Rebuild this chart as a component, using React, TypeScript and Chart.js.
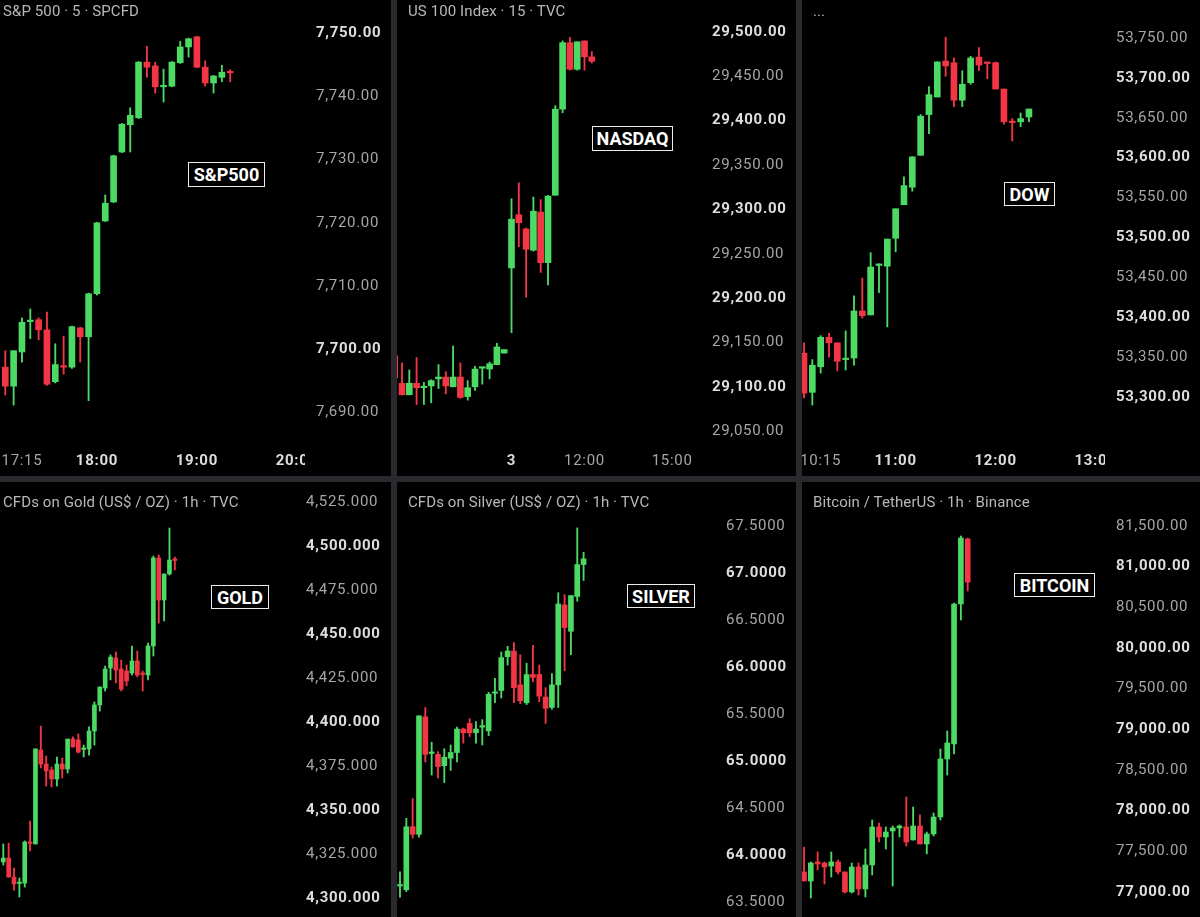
import React, { useEffect, useRef } from 'react';
import { Chart, registerables } from 'chart.js';

Chart.register(...registerables);

type OHLC = [number, number, number, number]; // open, high, low, close

// ---------- DATA ----------
const SPX_OHLC: OHLC[] = [
  [7697.2, 7699.8, 7692.8, 7694.2], [7694.2, 7699.8, 7691.2, 7699.8], [7699.6, 7705.0, 7698.0, 7704.3],
  [7704.4, 7706.4, 7701.7, 7704.6], [7704.7, 7705.0, 7701.5, 7703.1], [7703.1, 7705.9, 7694.3, 7694.5],
  [7694.9, 7700.9, 7694.7, 7697.6], [7697.4, 7702.1, 7696.1, 7697.2], [7697.2, 7703.7, 7697.0, 7703.6],
  [7703.4, 7703.5, 7698.0, 7702.0], [7702.0, 7708.9, 7691.9, 7708.8], [7708.8, 7720.1, 7708.6, 7720.0],
  [7720.3, 7724.4, 7720.2, 7723.1], [7723.3, 7730.7, 7723.2, 7730.6], [7731.2, 7735.7, 7731.1, 7735.6],
  [7735.5, 7738.2, 7731.2, 7737.0], [7736.6, 7745.5, 7736.5, 7745.4], [7745.4, 7747.9, 7743.0, 7744.6],
  [7744.8, 7745.4, 7740.5, 7741.5], [7741.5, 7744.3, 7739.1, 7741.7], [7741.6, 7745.5, 7741.5, 7745.4],
  [7745.3, 7748.7, 7745.2, 7747.8], [7747.8, 7749.2, 7746.2, 7749.1], [7749.4, 7749.5, 7744.5, 7744.6],
  [7744.6, 7745.6, 7741.6, 7742.1], [7742.1, 7743.3, 7740.5, 7743.2], [7743.0, 7744.9, 7742.3, 7743.8],
  [7743.9, 7744.2, 7742.3, 7743.7],
];
const NDX_OHLC: OHLC[] = [
  [29135, 29139, 29099, 29110], [29104, 29127, 29091, 29091], [29091, 29119, 29091, 29104],
  [29104, 29133, 29080, 29099], [29099, 29105, 29080, 29100], [29101, 29108, 29082, 29107],
  [29109, 29125, 29098, 29111], [29111, 29117, 29092, 29101], [29100, 29146, 29100, 29111],
  [29111, 29127, 29087, 29088], [29089, 29107, 29085, 29099], [29100, 29123, 29096, 29120],
  [29121, 29122, 29103, 29122], [29120, 29128, 29109, 29126], [29125, 29149, 29125, 29145],
  [29138, 29142, 29138, 29142], [29234, 29312, 29161, 29289], [29294, 29330, 29258, 29285],
  [29278, 29279, 29201, 29255], [29254, 29314, 29253, 29298], [29297, 29311, 29229, 29240],
  [29240, 29316, 29215, 29315], [29316, 29417, 29316, 29413], [29413, 29490, 29409, 29488],
  [29488, 29494, 29457, 29458], [29458, 29489, 29457, 29489], [29490, 29490, 29457, 29472],
  [29472, 29478, 29465, 29467],
];
const DOW_OHLC: OHLC[] = [
  [53355, 53368, 53299, 53305], [53306, 53347, 53290, 53340], [53338, 53377, 53330, 53375],
  [53375, 53380, 53350, 53368], [53368, 53368, 53333, 53345], [53347, 53383, 53334, 53348],
  [53349, 53427, 53340, 53408], [53408, 53449, 53399, 53402], [53403, 53481, 53403, 53463],
  [53465, 53467, 53431, 53466], [53464, 53498, 53388, 53498], [53499, 53536, 53482, 53536],
  [53541, 53576, 53541, 53565], [53563, 53601, 53558, 53601], [53603, 53654, 53603, 53652],
  [53654, 53689, 53630, 53679], [53676, 53720, 53676, 53720], [53721, 53751, 53702, 53715],
  [53719, 53725, 53664, 53672], [53672, 53709, 53664, 53692], [53694, 53727, 53692, 53725],
  [53726, 53738, 53709, 53716], [53719, 53720, 53699, 53718], [53719, 53720, 53686, 53686],
  [53686, 53686, 53642, 53645], [53645, 53649, 53621, 53644], [53645, 53656, 53639, 53649],
  [53651, 53661, 53645, 53661],
];
const GOLD_OHLC: OHLC[] = [
  [4320.5, 4330.7, 4318.7, 4322.7], [4322.7, 4331.2, 4311.9, 4311.9], [4311.9, 4317.0, 4304.5, 4307.9],
  [4308.2, 4311.4, 4300.6, 4308.8], [4308.5, 4332.4, 4306.2, 4331.8], [4331.5, 4343.7, 4326.7, 4331.0],
  [4330.7, 4384.7, 4330.7, 4384.7], [4384.1, 4397.7, 4373.9, 4376.1], [4376.1, 4380.7, 4363.6, 4372.2],
  [4372.7, 4374.4, 4363.1, 4367.6], [4367.6, 4380.1, 4363.6, 4376.1], [4376.1, 4379.5, 4368.2, 4373.3],
  [4373.3, 4390.3, 4371.0, 4390.3], [4390.3, 4391.5, 4385.8, 4385.8], [4389.8, 4393.2, 4382.4, 4382.9],
  [4384.4, 4386.9, 4380.1, 4384.9], [4384.7, 4397.2, 4381.2, 4394.9], [4394.9, 4411.4, 4386.9, 4409.7],
  [4409.7, 4419.9, 4406.2, 4419.9], [4419.3, 4431.8, 4417.6, 4430.1], [4430.7, 4438.1, 4423.9, 4436.9],
  [4436.4, 4439.8, 4422.2, 4429.5], [4430.1, 4435.2, 4417.6, 4418.7], [4429.0, 4432.4, 4420.5, 4423.3],
  [4427.8, 4443.2, 4426.7, 4434.7], [4434.7, 4440.3, 4425.6, 4426.7], [4427.6, 4429.0, 4417.6, 4427.0],
  [4426.7, 4444.9, 4423.9, 4443.2], [4443.2, 4494.3, 4437.5, 4493.2], [4493.2, 4494.9, 4456.2, 4469.3],
  [4469.3, 4484.1, 4457.4, 4484.1], [4484.1, 4510.2, 4483.5, 4492.0], [4492.3, 4493.7, 4486.4, 4491.8],
];
const SILVER_OHLC: OHLC[] = [
  [63.67, 63.82, 63.55, 63.68], [63.63, 64.39, 63.61, 64.30], [64.30, 64.60, 64.18, 64.22],
  [64.22, 65.48, 64.19, 65.48], [65.47, 65.57, 64.99, 65.07], [65.08, 65.20, 64.85, 65.09],
  [65.07, 65.10, 64.82, 64.94], [64.95, 65.13, 64.77, 65.04], [65.03, 65.17, 64.90, 65.09],
  [65.09, 65.36, 64.99, 65.34], [65.34, 65.35, 65.19, 65.30], [65.40, 65.45, 65.26, 65.30],
  [65.30, 65.42, 65.19, 65.34], [65.36, 65.44, 65.17, 65.37], [65.32, 65.73, 65.27, 65.71],
  [65.72, 65.88, 65.62, 65.73], [65.75, 66.16, 65.67, 66.10], [66.11, 66.22, 66.02, 66.17],
  [66.17, 66.26, 65.62, 65.78], [65.81, 66.13, 65.61, 65.64], [65.62, 66.04, 65.60, 65.92],
  [65.92, 66.23, 65.84, 65.89], [65.92, 66.02, 65.63, 65.69], [65.68, 65.78, 65.40, 65.56],
  [65.57, 65.93, 65.55, 65.81], [65.81, 66.79, 65.57, 66.67], [66.66, 66.77, 65.96, 66.42],
  [66.38, 66.76, 66.13, 66.76], [66.75, 67.48, 66.70, 67.09], [67.09, 67.22, 66.92, 67.15],
];
const BTC_OHLC: OHLC[] = [
  [77246, 77553, 77135, 77135], [77135, 77369, 76926, 77356], [77369, 77492, 77270, 77344],
  [77356, 77369, 77098, 77307], [77319, 77492, 77184, 77369], [77369, 77393, 77221, 77246],
  [77246, 77246, 76987, 77000], [77000, 77356, 76987, 77307], [77307, 77356, 76963, 77037],
  [77037, 77528, 76938, 77332], [77332, 77885, 77209, 77799], [77799, 77848, 77615, 77676],
  [77676, 77799, 77528, 77737], [77750, 77811, 77073, 77787], [77787, 77824, 77676, 77811],
  [77799, 78168, 77565, 77615], [77639, 78045, 77639, 77811], [77811, 77947, 77590, 77590],
  [77590, 77737, 77468, 77713], [77713, 77971, 77688, 77922], [77922, 78758, 77885, 78635],
  [78635, 78979, 78438, 78832], [78820, 80553, 78697, 80541], [80541, 81377, 80344, 81352],
  [81340, 81352, 80701, 80811],
];

// price-axis tick values
const SPX_TICKS = [7690, 7700, 7710, 7720, 7730, 7740, 7750];
const NDX_TICKS = [29050, 29100, 29150, 29200, 29250, 29300, 29350, 29400, 29450, 29500];
const DOW_TICKS = [53300, 53350, 53400, 53450, 53500, 53550, 53600, 53650, 53700, 53750];
const GOLD_TICKS = [4300, 4325, 4350, 4375, 4400, 4425, 4450, 4475, 4500, 4525];
const SILVER_TICKS = [63.5, 64, 64.5, 65, 65.5, 66, 66.5, 67, 67.5];
const BTC_TICKS = [77000, 77500, 78000, 78500, 79000, 79500, 80000, 80500, 81000, 81500];

// time-axis ticks (candle index) and labels
const SPX_TIME_IDX = [2, 11, 23, 35];
const SPX_TIME_LABELS = ['17:15', '18:00', '19:00', '20:00'];
const SPX_TIME_BOLD = [false, true, true, true];
const NDX_TIME_IDX = [16, 26, 38];
const NDX_TIME_LABELS = ['3', '12:00', '15:00'];
const NDX_TIME_BOLD = [true, false, false];
const DOW_TIME_IDX = [2, 11, 23, 35];
const DOW_TIME_LABELS = ['10:15', '11:00', '12:00', '13:00'];
const DOW_TIME_BOLD = [false, true, true, true];

const TITLES = ['S&P 500 · 5 · SPCFD', 'US 100 Index · 15 · TVC', '...', 'CFDs on Gold (US$ / OZ) · 1h · TVC', 'CFDs on Silver (US$ / OZ) · 1h · TVC', 'Bitcoin / TetherUS · 1h · Binance'];
const TAGS = ['S&P500', 'NASDAQ', 'DOW', 'GOLD', 'SILVER', 'BITCOIN'];

// ---------- STYLE ----------
const UP = '#4cd964';
const DOWN = '#f23645';
const FONT = 'Roboto, "Noto Sans", sans-serif';

interface Panel {
  data: OHLC[];
  yTicks: number[]; yMajor: number; yDec: number; yMin: number; yMax: number;
  xMin: number; xMax: number;
  xTicks: number[]; xLabels: string[]; xBold: boolean[];
  rect: [number, number, number, number];
  plot: [number, number, number]; // top, bottom, right (local)
  bodyW: number;
  titlePos: [number, number];
  tagBox: [number, number, number, number];
}

const PANELS: Panel[] = [
  { data: SPX_OHLC, yTicks: SPX_TICKS, yMajor: 50, yDec: 2, yMin: 7684.9, yMax: 7751.74, xMin: -0.636, xMax: 35.98,
    xTicks: SPX_TIME_IDX, xLabels: SPX_TIME_LABELS, xBold: SPX_TIME_BOLD,
    rect: [0, 0, 391, 476], plot: [22, 445, 305], bodyW: 6, titlePos: [3, 2], tagBox: [188, 162, 77, 25] },
  { data: NDX_OHLC, yTicks: NDX_TICKS, yMajor: 100, yDec: 2, yMin: 29034.4, yMax: 29511.3, xMin: 0.315, xMax: 41.96,
    xTicks: NDX_TIME_IDX, xLabels: NDX_TIME_LABELS, xBold: NDX_TIME_BOLD,
    rect: [397, 0, 399, 476], plot: [22, 445, 304], bodyW: 6, titlePos: [408, 2], tagBox: [592, 126, 81, 25] },
  { data: DOW_OHLC, yTicks: DOW_TICKS, yMajor: 100, yDec: 2, yMin: 53240.0, yMax: 53770.0, xMin: -0.24, xMax: 36.13,
    xTicks: DOW_TIME_IDX, xLabels: DOW_TIME_LABELS, xBold: DOW_TIME_BOLD,
    rect: [802, 0, 398, 476], plot: [22, 445, 303], bodyW: 6, titlePos: [813, 2], tagBox: [1004, 182, 51, 24] },
  { data: GOLD_OHLC, yTicks: GOLD_TICKS, yMajor: 50, yDec: 3, yMin: 4289.2, yMax: 4530.68, xMin: -0.616, xMax: 54.42,
    xTicks: [], xLabels: [], xBold: [],
    rect: [0, 482, 391, 435], plot: [10, 435, 295], bodyW: 4, titlePos: [3, 493], tagBox: [211, 585, 58, 24] },
  { data: SILVER_OHLC, yTicks: SILVER_TICKS, yMajor: 1, yDec: 4, yMin: 63.34, yMax: 67.862, xMin: -0.474, xMax: 49.76,
    xTicks: [], xLabels: [], xBold: [],
    rect: [397, 482, 399, 435], plot: [10, 435, 318], bodyW: 5, titlePos: [408, 493], tagBox: [627, 584, 68, 24] },
  { data: BTC_OHLC, yTicks: BTC_TICKS, yMajor: 1000, yDec: 2, yMin: 76692, yMax: 81918, xMin: -0.293, xMax: 44.13,
    xTicks: [], xLabels: [], xBold: [],
    rect: [802, 482, 398, 435], plot: [10, 435, 303], bodyW: 5, titlePos: [813, 493], tagBox: [1014, 573, 81, 24] },
];

const fmt = (v: number, d: number) =>
  v.toLocaleString('en-US', { minimumFractionDigits: d, maximumFractionDigits: d });

const spacingPlugin = {
  id: 'spacing',
  beforeDraw(chart: any) { chart.ctx.letterSpacing = '0.7px'; },
};
const maskPlugin = {
  id: 'mask',
  afterDraw(chart: any) {
    const { ctx, chartArea, width, height } = chart;
    ctx.save();
    ctx.fillStyle = '#000';
    ctx.fillRect(chartArea.right, chartArea.bottom, width - chartArea.right, height - chartArea.bottom);
    ctx.restore();
  },
};

function CandlePanel({ p }: { p: Panel }) {
  const ref = useRef<HTMLCanvasElement>(null);
  const [, , w, h] = p.rect;
  useEffect(() => {
    const [pt, pb, pr] = p.plot;
    const hasX = p.xTicks.length > 0;
    const colors = p.data.map((d) => (d[3] >= d[0] ? UP : DOWN));
    const chart = new Chart(ref.current as HTMLCanvasElement, {
      type: 'bar',
      data: {
        datasets: [
          {
            label: 'body',
            data: p.data.map((d, i) => ({ x: i, y: [d[0], d[3]] })) as any,
            backgroundColor: colors,
            barThickness: p.bodyW,
            minBarLength: 1.5,
            grouped: false,
            borderWidth: 0,
          },
          {
            label: 'wick',
            data: p.data.map((d, i) => ({ x: i, y: [d[2], d[1]] })) as any,
            backgroundColor: colors,
            barThickness: 1.2,
            grouped: false,
            borderWidth: 0,
          },
        ],
      },
      options: {
        animation: false,
        responsive: false,
        devicePixelRatio: 1,
        events: [],
        layout: { padding: { top: pt, bottom: hasX ? 0 : h - pb, left: 0, right: 0 } },
        plugins: { legend: { display: false }, tooltip: { enabled: false } },
        scales: {
          x: {
            type: 'linear',
            min: p.xMin,
            max: p.xMax,
            bounds: 'data',
            offset: false,
            display: hasX,
            grid: { display: false, drawTicks: false },
            border: { display: false },
            afterBuildTicks: (s: any) => { s.ticks = p.xTicks.map((v) => ({ value: v })); },
            afterFit: (s: any) => { s.height = hasX ? h - pb : 0; s.paddingLeft = 0; s.paddingRight = 0; },
            ticks: {
              autoSkip: false,
              maxRotation: 0,
              minRotation: 0,
              padding: 7,
              callback: (v: any) => p.xLabels[p.xTicks.indexOf(Number(v))] ?? '',
              font: (c: any) => ({ family: FONT, size: 15, weight: p.xBold[c.index] ? 'bold' : 'normal' }),
              color: (c: any) => (p.xBold[c.index] ? '#dedede' : '#a6a6a6'),
            },
          } as any,
          y: {
            type: 'linear',
            position: 'right',
            min: p.yMin,
            max: p.yMax,
            bounds: 'data',
            grid: { display: false, drawTicks: false },
            border: { display: false },
            afterBuildTicks: (s: any) => { s.ticks = p.yTicks.map((v) => ({ value: v })); },
            afterFit: (s: any) => { s.width = w - pr; s.paddingTop = 0; s.paddingBottom = 0; },
            ticks: {
              padding: 11,
              callback: (v: any) => fmt(Number(v), p.yDec),
              font: (c: any) => {
                const v = c.tick ? c.tick.value : 0;
                const major = Math.abs(v / p.yMajor - Math.round(v / p.yMajor)) < 1e-6;
                return { family: FONT, size: 15, weight: major ? 'bold' : 'normal' };
              },
              color: (c: any) => {
                const v = c.tick ? c.tick.value : 0;
                const major = Math.abs(v / p.yMajor - Math.round(v / p.yMajor)) < 1e-6;
                return major ? '#dedede' : '#a6a6a6';
              },
            },
          } as any,
        },
      },
      plugins: [spacingPlugin, maskPlugin],
    });
    return () => chart.destroy();
  }, [p]);
  return <canvas ref={ref} width={w} height={h} style={{ position: 'absolute', left: 0, top: 0, width: w, height: h }} />;
}

export default function App() {
  return (
    <div style={{ position: 'fixed', left: 0, top: 0, width: 1200, height: 917, background: '#2a2a2e', overflow: 'hidden', fontFamily: FONT }}>
      {PANELS.map((p, i) => (
        <div key={'p' + i} style={{ position: 'absolute', left: p.rect[0], top: p.rect[1], width: p.rect[2], height: p.rect[3], background: '#000', overflow: 'hidden' }}>
          <CandlePanel p={p} />
        </div>
      ))}
      {PANELS.map((p, i) => (
        <div key={'t' + i} style={{ position: 'absolute', left: p.titlePos[0], top: p.titlePos[1], fontSize: 15, lineHeight: '18px', color: '#b8b8b8', letterSpacing: '0.1px', whiteSpace: 'nowrap' }}>
          {TITLES[i]}
        </div>
      ))}
      {PANELS.map((p, i) => (
        <div key={'g' + i} style={{ position: 'absolute', left: p.tagBox[0], top: p.tagBox[1], width: p.tagBox[2], height: p.tagBox[3], boxSizing: 'border-box', border: '1.5px solid #ececec', background: '#000', color: '#fff', fontWeight: 'bold', fontSize: 18, display: 'flex', alignItems: 'center', justifyContent: 'center', whiteSpace: 'nowrap' }}>
          {TAGS[i]}
        </div>
      ))}
    </div>
  );
}
